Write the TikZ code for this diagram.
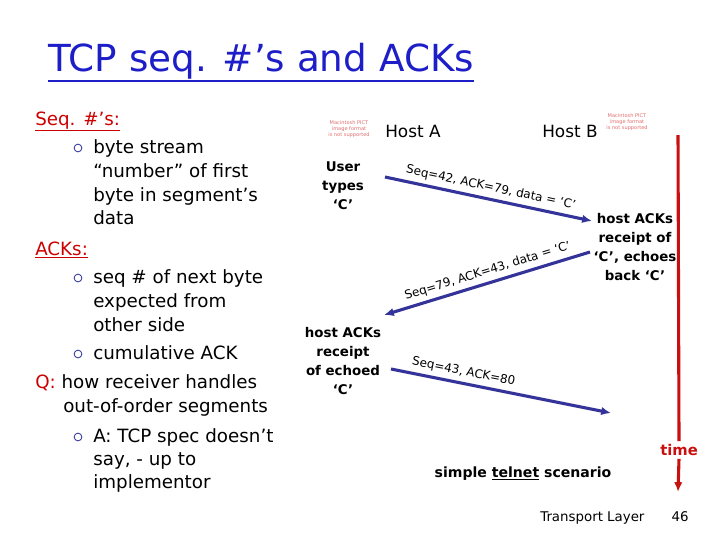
\documentclass[tikz,border=0pt]{standalone}
\usepackage{fontspec}
\setmainfont{DejaVu Sans}
\usetikzlibrary{arrows.meta}
\definecolor{slideblue}{RGB}{30,30,200}
\definecolor{slidered}{RGB}{204,0,0}
\definecolor{segblue}{RGB}{51,51,153}
\definecolor{pictpink}{RGB}{225,110,110}
\definecolor{timered}{RGB}{200,16,16}

\begin{document}
\begin{tikzpicture}[x=0.025cm,y=-0.025cm,
  body/.style={anchor=base west,inner sep=0pt,font=\fontsize{13}{16}\selectfont},
  head/.style={body,text=slidered},
  bul/.style={circle,draw=segblue,line width=0.6pt,inner sep=0pt,minimum size=5.5pt},
  note/.style={align=center,inner sep=0pt,font=\fontsize{9.5}{13.5}\selectfont\bfseries},
  host/.style={anchor=base west,inner sep=0pt,font=\fontsize{12}{14}\selectfont},
  pict/.style={align=center,text=pictpink,inner sep=0pt,font=\fontsize{3.6}{4.4}\selectfont},
  seg/.style={draw=segblue,line width=2.2pt,-{Latex[length=7pt,width=6pt]}},
  seglabel/.style={sloped,inner sep=1pt,font=\fontsize{8.5}{10}\selectfont}]
\useasboundingbox (0,0) rectangle (720,540);

% title
\node[anchor=base west,inner sep=0pt,text=slideblue,font=\fontsize{26.5}{30}\selectfont] (title) at (48,71) {TCP seq. \#’s and ACKs};
\draw[slideblue,line width=1.4pt] ([yshift=-7pt]title.base west) -- ([yshift=-7pt]title.base east);

% left column
\node[head] (seqs) at (35,125) {\underline{Seq. \#’s:}};
\node[bul] (b1) at (78,148) {};
\node[body] (l1) at (93,153) {byte stream};
\node[body] (l2) at (93,177) {“number” of first};
\node[body] (l3) at (93,201) {byte in segment’s};
\node[body] (l4) at (93,224) {data};
\node[head] (acks) at (35,255) {\underline{ACKs:}};
\node[bul] (b2) at (78,278) {};
\node[body] (l5) at (93,283) {seq \# of next byte};
\node[body] (l6) at (93,307) {expected from};
\node[body] (l7) at (93,331) {other side};
\node[bul] (b3) at (78,354) {};
\node[body] (l8) at (93,359) {cumulative ACK};
\node[body] (q1) at (35,388) {{\color{slidered}Q:} how receiver handles};
\node[body] (q2) at (63,412) {out-of-order segments};
\node[bul] (b4) at (78,437) {};
\node[body] (l9) at (93,442) {A: TCP spec doesn’t};
\node[body] (l10) at (93,465) {say, - up to};
\node[body] (l11) at (93,488) {implementor};

% hosts
\node[pict] (pictA) at (349,129) {Macintosh PICT\\image format\\is not supported};
\node[pict] (pictB) at (627,122) {Macintosh PICT\\image format\\is not supported};
\node[host] (hostA) at (385,137) {Host A};
\node[host] (hostB) at (542,137) {Host B};

% time axis
\coordinate (t0) at (678,135);
\node[text=timered,fill=white,inner sep=2pt,font=\fontsize{10.5}{12}\selectfont\bfseries] (time) at (679,450) {time};
\coordinate (t1) at (678,492);
\draw[timered,line width=2.2pt] (t0) -- (time.north);
\draw[timered,line width=2.2pt,-{Latex[length=7pt,width=6pt]}] (time.south) -- (t1);

% notes
\node[note] (user) at (343,186) {User\\types\\‘C’};
\node[note] (echo) at (635,247) {host ACKs\\receipt of\\‘C’, echoes\\back ‘C’};
\node[note] (recv) at (343,361) {host ACKs\\receipt\\of echoed\\‘C’};

% segments
\coordinate (s1) at (385,177);
\coordinate (r1) at (592,221);
\draw[seg] (s1) -- node[seglabel,above=2pt,pos=0.5] {Seq=42, ACK=79, data = ‘C’} (r1);
\coordinate (s2) at (590,252);
\coordinate (r2) at (384,315);
\draw[seg] (s2) -- node[seglabel,above=2pt,pos=0.48] {Seq=79, ACK=43, data = ‘C’} (r2);
\coordinate (s3) at (391,369);
\coordinate (r3) at (611,413);
\draw[seg] (s3) -- node[seglabel,above=2pt,pos=0.32] {Seq=43, ACK=80} (r3);

% footer
\node[anchor=base,inner sep=0pt,font=\fontsize{10}{12}\selectfont\bfseries] (scen) at (523,477) {simple \underline{telnet} scenario};
\node[anchor=base west,inner sep=0pt,font=\fontsize{9.5}{11}\selectfont] (layer) at (540,521) {Transport Layer};
\node[anchor=base,inner sep=0pt,font=\fontsize{9.5}{11}\selectfont] (page) at (680,521) {46};
\end{tikzpicture}
\end{document}
